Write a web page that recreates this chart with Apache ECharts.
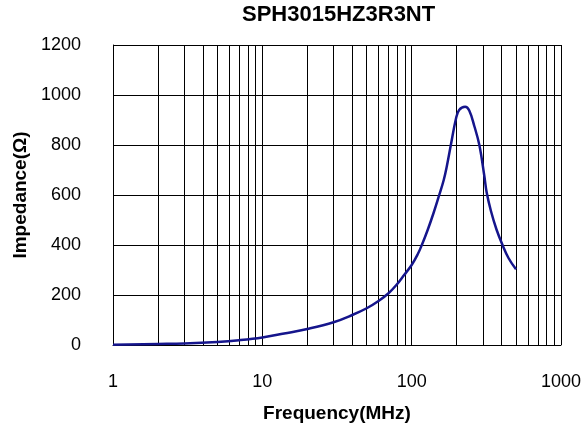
<!DOCTYPE html>
<html>
<head>
<meta charset="utf-8">
<script src="https://cdn.jsdelivr.net/npm/echarts@6/dist/echarts.min.js"></script>
<style>html,body{margin:0;padding:0;background:#fff}#c{width:584px;height:430px}</style>
</head>
<body>
<div id="c"></div>
<script>
var chartTitle = 'SPH3015HZ3R3NT';
var xName = 'Frequency(MHz)';
var yName = 'Impedance(\u03A9)';
var freq = [1, 2, 3, 5, 7, 10, 14, 20, 30, 40, 50, 60, 70, 79, 89, 100, 110, 117, 128, 140, 153, 164, 172, 183, 198, 208, 228, 243, 263, 284, 306, 318, 340, 370, 406, 446, 500];
var impedance = [1, 4, 6, 12, 19, 30, 46, 64, 91, 120, 147, 176, 207, 240, 280, 320, 364, 400, 460, 527, 600, 660, 715, 800, 905, 940, 953, 938, 875, 800, 680, 610, 535, 462, 400, 347, 303];
var minorGrid = [2, 3, 4, 5, 6, 7, 8, 9, 20, 30, 40, 50, 60, 70, 80, 90, 200, 300, 400, 500, 600, 700, 800, 900];
var xTickLabels = [1, 10, 100, 1000];
var yTicks = [0, 200, 400, 600, 800, 1000, 1200];

var FONT = '"Liberation Sans", Arial, sans-serif';
var chart = echarts.init(document.getElementById('c'), null, {renderer: 'canvas'});
var pts = freq.map(function (f, i) { return [f, impedance[i]]; });
chart.setOption({
  animation: false,
  backgroundColor: '#fff',
  title: {
    text: chartTitle, left: 242, top: 4, padding: 0,
    textStyle: {fontFamily: FONT, fontSize: 22, fontWeight: 'bold', color: '#000'}
  },
  grid: {left: 113, right: 22, top: 45, bottom: 85, containLabel: false},
  xAxis: {
    type: 'log', logBase: 10,
    min: xTickLabels[0], max: xTickLabels[xTickLabels.length - 1],
    name: xName, nameLocation: 'middle', nameGap: 59,
    nameTextStyle: {fontFamily: FONT, fontSize: 19, fontWeight: 'bold', color: '#000'},
    axisLine: {show: true, lineStyle: {color: '#000', width: 1}},
    axisTick: {show: false},
    axisLabel: {margin: 28, fontFamily: FONT, fontSize: 18, color: '#000',
      formatter: function (v) { return String(Math.round(v)); }},
    splitLine: {show: true, lineStyle: {color: '#000', width: 1}}
  },
  yAxis: {
    type: 'value', min: yTicks[0], max: yTicks[yTicks.length - 1], interval: 200,
    name: yName, nameLocation: 'middle', nameGap: 78, nameRotate: 90,
    nameTextStyle: {fontFamily: FONT, fontSize: 19, fontWeight: 'bold', color: '#000'},
    axisLine: {show: true, lineStyle: {color: '#000', width: 1}},
    axisTick: {show: false},
    axisLabel: {margin: 32, fontFamily: FONT, fontSize: 18, color: '#000',
      formatter: function (v) { return String(v); }},
    splitLine: {show: true, lineStyle: {color: '#000', width: 1}}
  },
  series: [{
    type: 'line', data: pts, smooth: 0.4, symbol: 'none',
    lineStyle: {color: '#15158c', width: 2.5},
    z: 5,
    markLine: {
      silent: true, symbol: ['none', 'none'], animation: false,
      label: {show: false},
      lineStyle: {color: '#000', width: 1, type: 'solid'},
      emphasis: {disabled: true},
      data: minorGrid.map(function (v) { return {xAxis: v}; })
    }
  }]
});
</script>
</body>
</html>
